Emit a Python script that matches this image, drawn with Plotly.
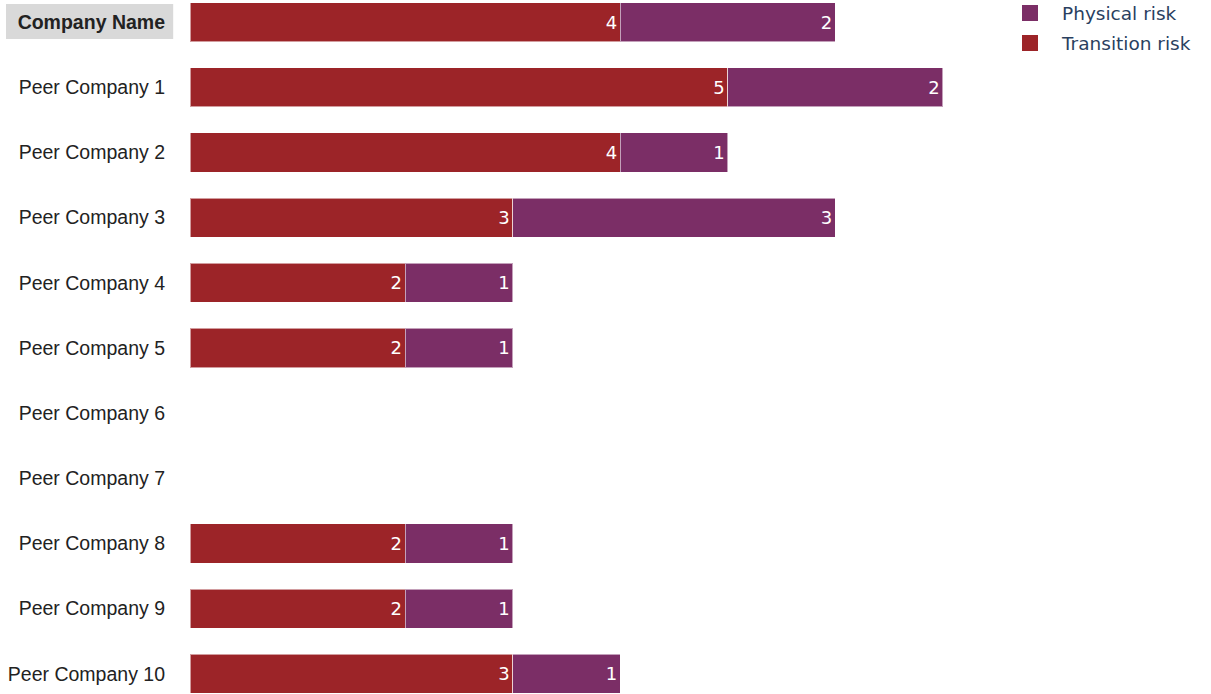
import plotly.graph_objects as go

companies = ["Company Name", "Peer Company 1", "Peer Company 2", "Peer Company 3",
             "Peer Company 4", "Peer Company 5", "Peer Company 6", "Peer Company 7",
             "Peer Company 8", "Peer Company 9", "Peer Company 10"]
transition_risk = [4, 5, 4, 3, 2, 2, 0, 0, 2, 2, 3]
physical_risk = [2, 2, 1, 3, 1, 1, 0, 0, 1, 1, 1]

RED = "#9c2428"
PURPLE = "#7b2e66"
BAR_LINE = dict(color="rgba(255,255,255,0.55)", width=1)

tick_text = ["<b>Company Name</b>"] + companies[1:]


def labels(vals):
    return [str(v) if v else "" for v in vals]


fig = go.Figure()
series = [("Transition risk", transition_risk, RED),
          ("Physical risk", physical_risk, PURPLE)]
for name, vals, color in series:
    fig.add_trace(go.Bar(
        name=name, y=companies, x=vals, orientation="h",
        marker=dict(color=color, line=BAR_LINE),
        text=labels(vals), textposition="inside", insidetextanchor="end",
        textangle=0, textfont=dict(color="white", size=18, family="DejaVu Sans"),
        legendgroup=name, showlegend=False,
    ))

# legend entries with larger square swatches (top segment listed first)
for name, vals, color in reversed(series):
    fig.add_trace(go.Scatter(
        name=name, x=[None], y=[None], mode="markers",
        marker=dict(symbol="square", size=16, color=color),
        legendgroup=name, showlegend=True, hoverinfo="skip",
    ))

# highlight box behind the focus company's label
fig.add_shape(type="rect", xref="paper", yref="y",
              x0=-0.23, x1=-0.021, y0=-0.28, y1=0.26,
              fillcolor="#d9d9d9", line=dict(width=0), layer="below")

fig.update_layout(
    width=1211, height=694,
    barmode="stack", bargap=0.4,
    margin=dict(l=190, r=221, t=0, b=0, autoexpand=False),
    paper_bgcolor="white", plot_bgcolor="white",
    font=dict(family="DejaVu Sans", size=18, color="#2a3f5f"),
    legend=dict(x=1.01, xanchor="left", y=1.008, yanchor="top",
                traceorder="grouped", tracegroupgap=3, itemwidth=54,
                itemsizing="trace",
                font=dict(size=18.5, family="DejaVu Sans", color="#2a3f5f")),
    xaxis=dict(range=[0, 7.44], showticklabels=False, showgrid=False,
               zeroline=False, showline=False, ticks=""),
    yaxis=dict(categoryorder="array", categoryarray=companies,
               tickmode="array", tickvals=companies, ticktext=tick_text,
               range=[10.31, -0.34], showgrid=False, zeroline=False,
               showline=False, ticks="", ticklabelstandoff=24,
               tickfont=dict(family="Liberation Sans", size=19.5, color="#222222")),
)

fig.write_html("out.html")
